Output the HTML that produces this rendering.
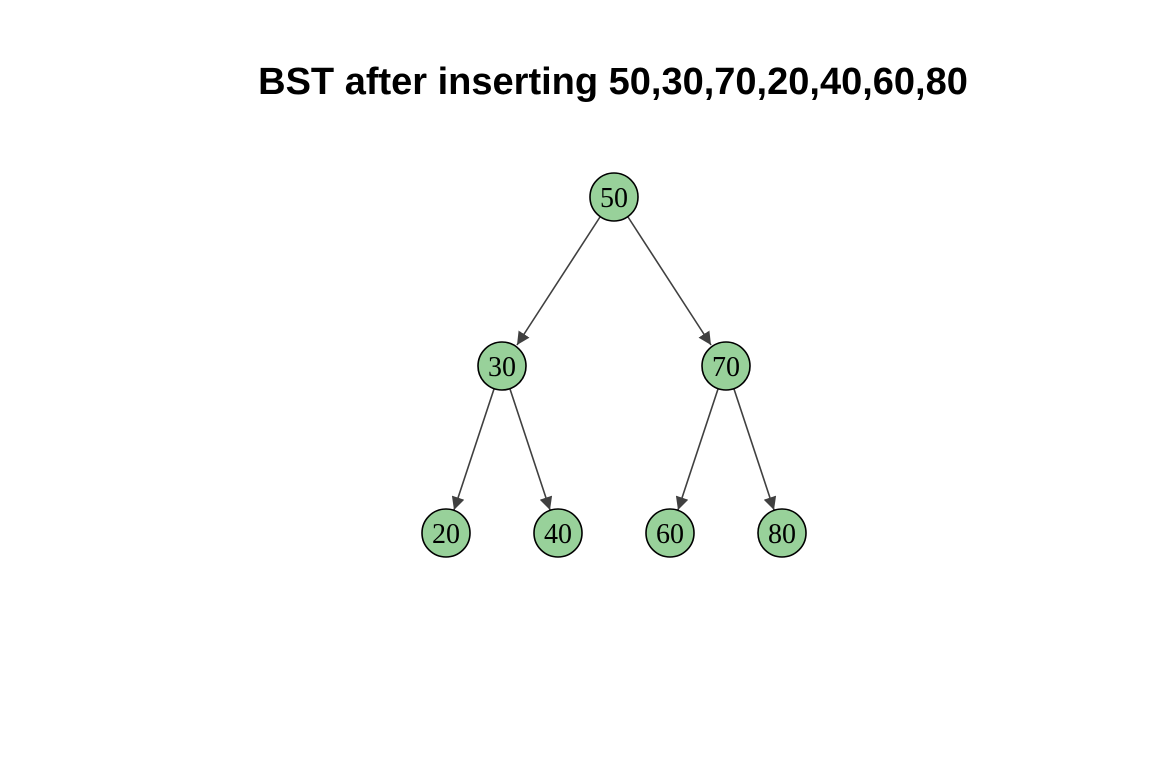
<!DOCTYPE html>
<html><head><style>body{margin:0;background:#fff}</style></head><body>
<svg width="1152" height="768" xmlns="http://www.w3.org/2000/svg">
<defs><marker id="a" viewBox="0 0 10 10" refX="10" refY="5" markerWidth="13" markerHeight="13" markerUnits="userSpaceOnUse" orient="auto"><path d="M0,0L10,5L0,10z" fill="#404040"/></marker></defs>
<text x="613" y="94" text-anchor="middle" font-family="Liberation Sans, sans-serif" font-weight="bold" font-size="38">BST after inserting 50,30,70,20,40,60,80</text>
<g stroke="#404040" stroke-width="1.6" marker-end="url(#a)">
<line x1="600" y1="217" x2="517" y2="345"/>
<line x1="628" y1="217" x2="711" y2="345"/>
<line x1="494" y1="389" x2="454" y2="510"/>
<line x1="510" y1="389" x2="550" y2="510"/>
<line x1="718" y1="389" x2="678" y2="510"/>
<line x1="734" y1="389" x2="774" y2="510"/>
</g>
<g fill="#98D19A" stroke="#000" stroke-width="1.6">
<circle cx="614" cy="197" r="24"/><circle cx="502" cy="366" r="24"/><circle cx="726" cy="366" r="24"/>
<circle cx="446" cy="533" r="24"/><circle cx="558" cy="533" r="24"/><circle cx="670" cy="533" r="24"/><circle cx="782" cy="533" r="24"/>
</g>
<g font-family="Liberation Serif, serif" font-size="28" text-anchor="middle">
<text x="614" y="207">50</text><text x="502" y="376">30</text><text x="726" y="376">70</text>
<text x="446" y="543">20</text><text x="558" y="543">40</text><text x="670" y="543">60</text><text x="782" y="543">80</text>
</g>
</svg>
</body></html>
